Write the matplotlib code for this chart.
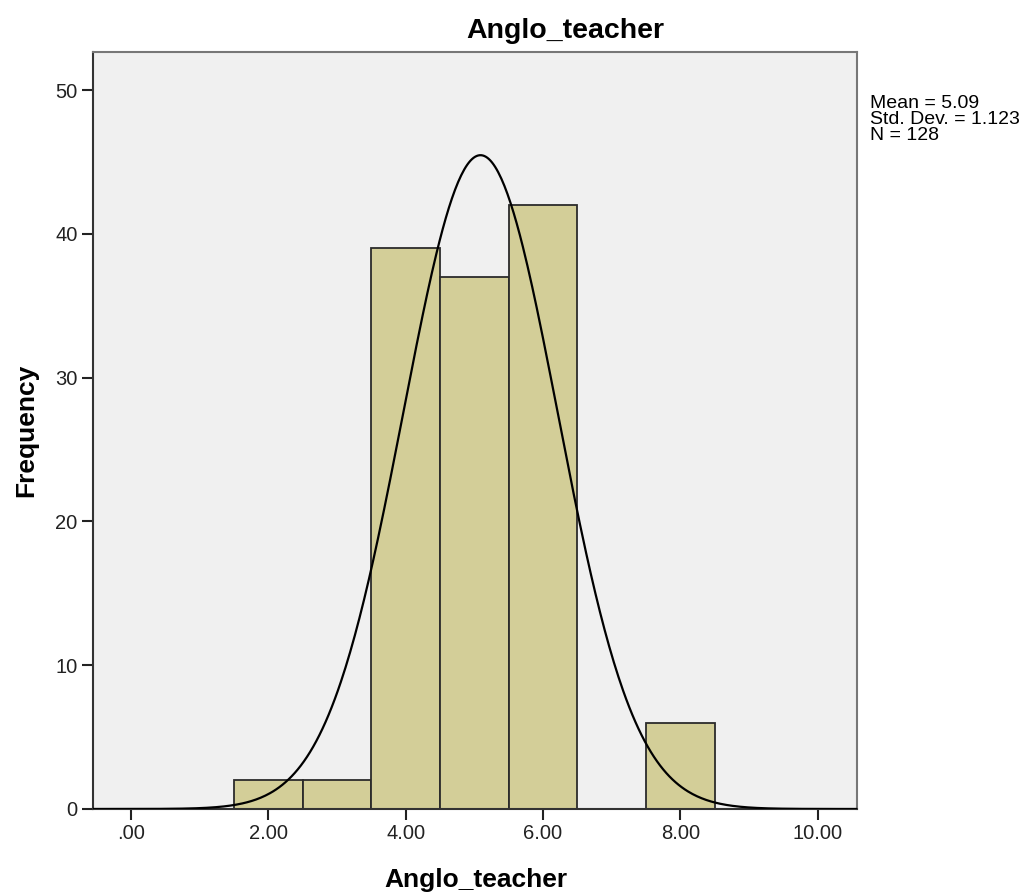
import numpy as np
import matplotlib.pyplot as plt

plt.rcParams['font.family'] = ['Liberation Sans', 'DejaVu Sans']

# histogram data (bin centres and counts)
bin_centers = [2, 3, 4, 5, 6, 7, 8]
counts = [2, 2, 39, 37, 42, 0, 6]
bin_width = 1.0

mean = 5.09
std = 1.123
n = 128

x_ticks = [0, 2, 4, 6, 8, 10]
x_ticklabels = ['.00', '2.00', '4.00', '6.00', '8.00', '10.00']
y_ticks = [0, 10, 20, 30, 40, 50]
stats_lines = ['Mean = 5.09', 'Std. Dev. = 1.123', 'N = 128']

fig = plt.figure(figsize=(10.29, 8.96), dpi=100)
ax = fig.add_axes([0.0904, 0.0971, 0.7424, 0.8449])
ax.set_facecolor('#F0F0F0')

ax.bar(bin_centers, counts, width=bin_width, color='#D3CE98',
       edgecolor='#2b2b2b', linewidth=1.3, zorder=2)

# normal curve scaled to the histogram
xs = np.linspace(-0.6, 10.6, 500)
ys = n * bin_width / (std * np.sqrt(2 * np.pi)) * np.exp(-0.5 * ((xs - mean) / std) ** 2)
ax.plot(xs, ys, color='black', lw=1.6, zorder=3)

ax.set_xlim(-0.55, 10.57)
ax.set_ylim(0, 52.65)
ax.set_xticks(x_ticks)
ax.set_xticklabels(x_ticklabels)
ax.set_yticks(y_ticks)
ax.tick_params(axis='both', labelsize=14.5, length=8, width=1.5, color='#222222',
               labelcolor='#222222', pad=3)
for s in ax.spines.values():
    s.set_color('#333333')
    s.set_linewidth(1.5)
ax.spines['top'].set_color('#777777')
ax.spines['right'].set_color('#777777')

fig.text(476 / 1029, 9 / 896, 'Anglo_teacher', fontsize=19, fontweight='bold',
         ha='center', va='baseline')
fig.text(26 / 1029, 1 - 430 / 896, 'Frequency', fontsize=19, fontweight='bold',
         ha='center', va='center', rotation=90)
fig.text(565 / 1029, 1 - 38 / 896, 'Anglo_teacher', fontsize=20.5, fontweight='bold',
         ha='center', va='baseline')

# stats box text, one line at a time (16 px apart)
for i, line in enumerate(stats_lines):
    fig.text(870 / 1029, 1 - (108 + 16 * i) / 896, line,
             fontsize=14, va='baseline', ha='left')

fig.savefig('out.png', dpi=100)
